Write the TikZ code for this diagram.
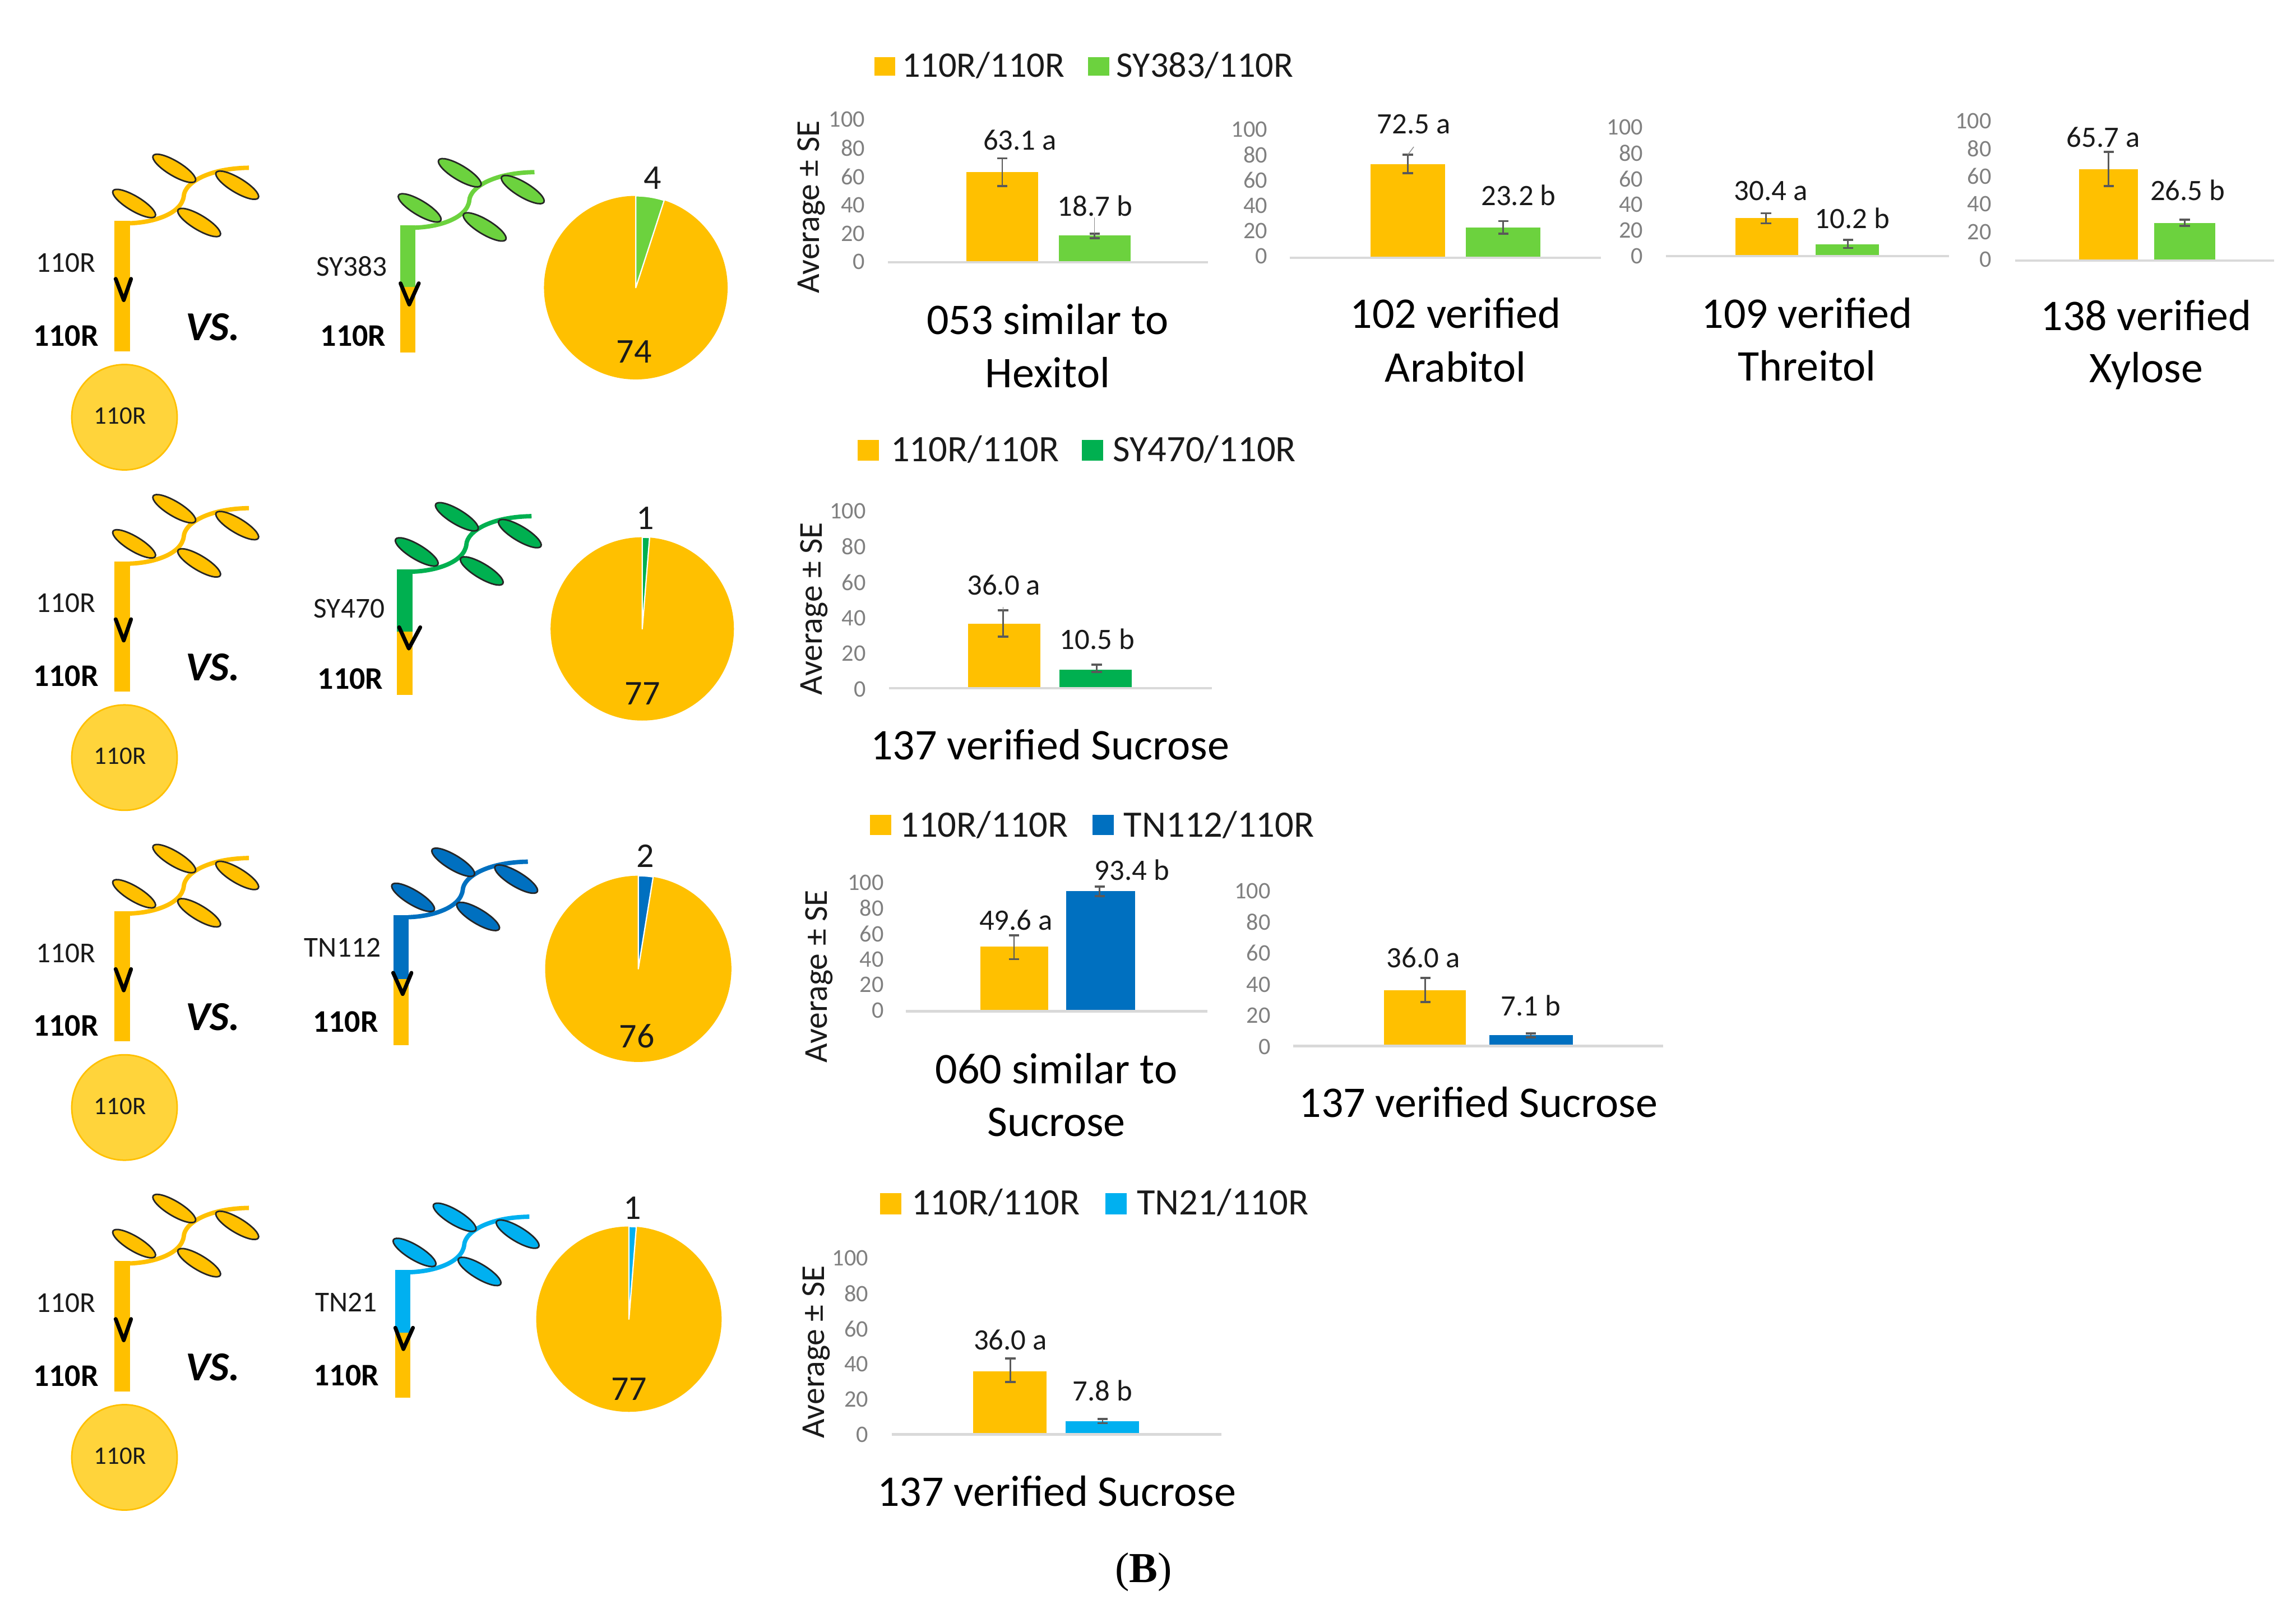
\documentclass[tikz,border=0pt]{standalone}
\usepackage{fontspec}
\setmainfont{Carlito}
\newfontfamily\capfont{Liberation Serif}
\definecolor{cyel}{HTML}{FFC000}
\definecolor{ccirc}{HTML}{FFD43B}
\definecolor{clg}{HTML}{6CD23E}
\definecolor{cdg}{HTML}{00B050}
\definecolor{cbl}{HTML}{0070C0}
\definecolor{csk}{HTML}{00B0F0}
\definecolor{ctick}{HTML}{808080}
\definecolor{caxis}{HTML}{D9D9D9}
\definecolor{cerr}{HTML}{595959}
\definecolor{ctxt}{HTML}{1A1A1A}
\tikzset{
  txt/.style={inner sep=0pt,outer sep=0pt,text=ctxt},
  plantlbl/.style={txt,font=\fontsize{11.2}{13}\selectfont},
  plantbold/.style={txt,text=black,font=\bfseries\fontsize{12.2}{14}\selectfont},
  vslbl/.style={txt,text=black,font=\bfseries\itshape\fontsize{16}{18}\selectfont},
  circlbl/.style={txt,font=\fontsize{9.8}{12}\selectfont},
  pielbl/.style={txt,font=\fontsize{13.5}{16}\selectfont},
  legendlbl/.style={txt,font=\fontsize{14.5}{17}\selectfont},
  legendlblsmall/.style={txt,font=\fontsize{14}{17}\selectfont},
  ticklbl/.style={txt,text=ctick,anchor=east,font=\fontsize{9.2}{11}\selectfont},
  vallbl/.style={txt,font=\fontsize{11.5}{14}\selectfont},
  titlelbl/.style={txt,text=black,font=\fontsize{17}{20}\selectfont},
  avglbl/.style={txt,rotate=90,font=\fontsize{13}{15}\selectfont},
  axisline/.style={draw=caxis,line width=0.9pt},
  errbar/.style={draw=cerr,line width=0.6pt},
  errcap/.style={draw=cerr,line width=0.8pt},
  errthin/.style={draw=cerr!70,line width=0.3pt},
  leaf/.style={draw=black!85,line width=0.6pt},
  shootline/.style={line width=1.7pt},
  graftmark/.style={draw=black,line width=1.5pt,line cap=round,line join=round},
  circstyle/.style={circle,draw=cyel,fill=ccirc,line width=0.6pt,inner sep=0pt},
  sliceedge/.style={draw=white,line width=0.5pt,line join=round},
}
% id, dx, dy, colour, stem bottom, junction, V left, V tip, V right
\newcommand{\graftplant}[9]{%
\begin{scope}[shift={(#2,#3)}]
  \draw[shootline,#4] (88.5,152.5) .. controls (105,152) and (124,146) .. (125.5,134)
        .. controls (126,125) and (142,115) .. (170,114.6);
  \fill[#4] (78.2,151) rectangle (88.7,#6);
  \fill[cyel] (78.2,#6) rectangle (88.7,#5);
  \draw[leaf,fill=#4,shift={(91.6,139)},rotate=-31] (0,0) ellipse [x radius=16.8,y radius=5];
  \draw[leaf,fill=#4,shift={(119,115)},rotate=-31] (0,0) ellipse [x radius=16.8,y radius=5];
  \draw[leaf,fill=#4,shift={(136,152)},rotate=-31] (0,0) ellipse [x radius=16.8,y radius=5];
  \draw[leaf,fill=#4,shift={(162,126.5)},rotate=-31] (0,0) ellipse [x radius=16.8,y radius=5];
  \draw[graftmark] (#7,190.5) -- (#8,205) -- (#9,190.5);
\end{scope}}
% id, cx, cy, r, angle, colour
\newcommand{\pie}[6]{%
\begin{scope}[shift={(#2,#3)},x=0.02cm,y=0.02cm]
  \fill[cyel] (0,0) circle [radius=#4];
  \draw[sliceedge,fill=#6] (0,0) -- (90:#4) arc [start angle=90,end angle={90-#5},radius=#4] -- cycle;
\end{scope}}
% id, axis x0, x1, y, tick right x, y of 100, y of 0
\newcommand{\chartaxis}[7]{%
  \foreach \v [count=\i from 0] in {100,80,60,40,20,0}{
    \node[ticklbl] (#1-t\v) at (#5,{#6+(#7-#6)*\i/5}) {\v};
  }
  \draw[axisline] (#2,#4) -- (#3,#4);}
% x0, x1, top, base, colour, err x, err top, err bottom
\newcommand{\chartbar}[8]{%
  \fill[#5] (#1,#3) rectangle (#2,#4);
  \draw[errbar] (#6,#7) -- (#6,#8);
  \draw[errcap] ({#6-3.5},#7) -- ({#6+3.5},#7);
  \draw[errcap] ({#6-3.5},#8) -- ({#6+3.5},#8);}
% id, swatch A x0, y0, y1, text A cx, cy, swatch B x0, text B left, label B
\newcommand{\legendcol}{clg}
\newcommand{\legendsty}{legendlbl}
\newcommand{\chartlegend}[9]{%
  \fill[cyel] (#2,#3) rectangle ({#2+14.5},#4);
  \node[\legendsty] (#1-a) at (#5,#6) {110R/110R};
  \fill[\legendcol] (#7,#3) rectangle ({#7+14.5},#4);
  \node[\legendsty,anchor=west] (#1-b) at (#8,#6) {#9};}
\begin{document}
\begin{tikzpicture}[x=0.02cm,y=-0.02cm]
\useasboundingbox (0,0) rectangle (1568,1092.8);
\fill[white] (0,0) rectangle (1568,1092.8);

% ---------- left plants ----------
\graftplant{pa1}{0}{0}{cyel}{239.9}{195}{79}{84.5}{89.5}
\graftplant{pa2}{0}{232.5}{cyel}{239.9}{195}{79}{84.5}{89.5}
\graftplant{pa3}{0}{471.5}{cyel}{239.9}{195}{79}{84.5}{89.5}
\graftplant{pa4}{0}{710.5}{cyel}{239.9}{195}{79}{84.5}{89.5}
\foreach \r/\d in {1/0,2/232.5,3/471.5,4/710.5}{
  \node[plantlbl] (la\r) at (45,{179.5+\d}) {110R};
  \node[plantbold] (lb\r) at (45,{229.3+\d}) {110R};
  \node[vslbl] (vs\r) at (145.5,{223.3+\d}) {VS.};
  \node[circstyle,minimum size=1.44cm] (ci\r) at (85,{285+\d}) {};
  \node[circlbl] (cl\r) at (82,{284+\d}) {110R};
}

% ---------- right plants ----------
\graftplant{pb1}{195}{3}{clg}{237.6}{193}{78.5}{84.5}{91}
\graftplant{pb2}{193}{238}{cdg}{236.6}{193.3}{79.6}{86.2}{94}
\graftplant{pb3}{190.5}{474}{cbl}{239.9}{194.7}{78}{84.5}{90.5}
\graftplant{pb4}{191.5}{716.5}{csk}{238.3}{193.8}{78.5}{84}{90.5}
\node[plantlbl] (sc1) at (240.3,181.8) {SY383};
\node[plantbold] (ro1) at (241.2,229.4) {110R};
\node[plantlbl] (sc2) at (238.5,415.7) {SY470};
\node[plantbold] (ro2) at (239.3,463.8) {110R};
\node[plantlbl] (sc3) at (233.9,647.4) {TN112};
\node[plantbold] (ro3) at (236,698) {110R};
\node[plantlbl] (sc4) at (236.3,889.5) {TN21};
\node[plantbold] (ro4) at (236.5,939.6) {110R};

% ---------- pies ----------
\pie{p1}{434.2}{196.5}{62.7}{18}{clg}
\node[pielbl] (p1a) at (445.8,121.6) {4};
\node[pielbl] (p1b) at (433,240.3) {74};
\pie{p2}{438.6}{429.6}{62.6}{4.6}{cdg}
\node[pielbl] (p2a) at (440.6,354) {1};
\node[pielbl] (p2b) at (438.8,473.6) {77};
\pie{p3}{435.9}{661.8}{63.6}{9.2}{cbl}
\node[pielbl] (p3a) at (440.8,584.6) {2};
\node[pielbl] (p3b) at (435,707.8) {76};
\pie{p4}{429.5}{901.1}{63.3}{4.6}{csk}
\node[pielbl] (p4a) at (431.7,825) {1};
\node[pielbl] (p4b) at (429.6,948.8) {77};

% ---------- row 1 charts ----------
\renewcommand{\legendcol}{clg}
\renewcommand{\legendsty}{legendlblsmall}
\chartlegend{lg1}{597}{39}{51.6}{671.5}{44.8}{743}{762.5}{SY383/110R}
\renewcommand{\legendsty}{legendlbl}
\node[avglbl] (avg1) at (554,141.5) {Average ± SE};
\chartbar{660}{709}{117.5}{179}{cyel}{684.5}{108.2}{127.2}
\chartbar{723}{772}{160.7}{179}{clg}{747.5}{159.7}{162.7}
\draw[errthin] (747.5,148.5) -- (747.5,159.7);
\chartaxis{c1}{606.5}{825}{179.3}{590.6}{81.7}{178.9}
\node[vallbl] (v1a) at (696.5,95.7) {63.1 a};
\node[vallbl] (v1b) at (747.8,140.7) {18.7 b};
\node[titlelbl] (t1a) at (715.5,218) {053 similar to};
\node[titlelbl] (t1b) at (715.5,254.5) {Hexitol};

\chartbar{935.9}{986.8}{112.1}{176}{cyel}{961.4}{105.7}{118.2}
\chartbar{1001}{1052}{155.6}{176}{clg}{1026.6}{151}{159.7}
\draw[errthin] (961.4,105.7) -- (965.5,100.3);
\chartaxis{c2}{880.7}{1093.3}{176}{865.5}{88.5}{175}
\node[vallbl] (v2a) at (965.5,84.7) {72.5 a};
\node[vallbl] (v2b) at (1037,133.5) {23.2 b};
\node[titlelbl] (t2a) at (994,214) {102 verified};
\node[titlelbl] (t2b) at (994,250.8) {Arabitol};

\chartbar{1185}{1228}{149}{175}{cyel}{1206}{145.7}{152.5}
\chartbar{1240}{1283}{167}{175}{clg}{1262}{163.8}{169.4}
\chartaxis{c3}{1137.7}{1331}{174.9}{1122}{87}{175}
\node[vallbl] (v3a) at (1209.4,130.4) {30.4 a};
\node[vallbl] (v3b) at (1265,149) {10.2 b};
\node[titlelbl] (t3a) at (1234,214) {109 verified};
\node[titlelbl] (t3b) at (1234,250) {Threitol};

\chartbar{1420}{1460}{115.8}{178}{cyel}{1440}{103.7}{127}
\chartbar{1471}{1512.7}{152.5}{178}{clg}{1492}{150}{154.3}
\chartaxis{c4}{1376}{1553}{178}{1360}{82.7}{177.3}
\node[vallbl] (v4a) at (1436.4,93.8) {65.7 a};
\node[vallbl] (v4b) at (1494,130) {26.5 b};
\node[titlelbl] (t4a) at (1465.6,215.5) {138 verified};
\node[titlelbl] (t4b) at (1465.6,253.5) {Xylose};

% ---------- row 2 chart ----------
\renewcommand{\legendcol}{cdg}
\chartlegend{lg2}{585.8}{300.4}{314.6}{665.8}{307}{739}{760}{SY470/110R}
\node[avglbl] (avg2) at (556,415.8) {Average ± SE};
\chartbar{661}{710.3}{426}{470}{cyel}{685}{417}{435}
\chartbar{723.6}{773}{457.5}{470}{cdg}{749}{454}{459}
\draw[errthin] (685,414.5) -- (685,417);
\chartaxis{c5}{607}{827.8}{470}{591.3}{349}{470.8}
\node[vallbl] (v5a) at (685.5,399.5) {36.0 a};
\node[vallbl] (v5b) at (749.2,436.6) {10.5 b};
\node[titlelbl] (t5) at (717,508.5) {137 verified Sucrose};

% ---------- row 3 charts ----------
\renewcommand{\legendcol}{cbl}
\chartlegend{lg3}{594}{556.7}{570.3}{672}{563.5}{746}{767.5}{TN112/110R}
\node[avglbl] (avg3) at (559.5,667) {Average ± SE};
\chartbar{669.4}{716}{646.5}{690.8}{cyel}{692.5}{639}{655.2}
\chartbar{728}{775}{608.5}{690.8}{cbl}{751}{605.7}{612.2}
\chartaxis{c6}{618.5}{824.6}{690.8}{603.5}{603}{690}
\node[vallbl] (v6a) at (693.8,628.6) {49.6 a};
\node[vallbl] (v6b) at (773,594.3) {93.4 b};
\node[titlelbl] (t6a) at (721.4,730) {060 similar to};
\node[titlelbl] (t6b) at (721.4,766.6) {Sucrose};

\chartbar{945}{1001}{676.5}{714.5}{cyel}{973.4}{668}{684.5}
\chartbar{1017}{1074}{707}{714.5}{cbl}{1045.4}{706}{708.6}
\chartaxis{c7}{883}{1135.6}{714.5}{867.7}{608.5}{715}
\node[vallbl] (v7a) at (972,654) {36.0 a};
\node[vallbl] (v7b) at (1045.4,687) {7.1 b};
\node[titlelbl] (t7) at (1009.6,753) {137 verified Sucrose};

% ---------- row 4 chart ----------
\renewcommand{\legendcol}{csk}
\chartlegend{lg4}{601}{814.9}{829.6}{680}{821.3}{755}{776.5}{TN21/110R}
\node[avglbl] (avg4) at (557.5,923.5) {Average ± SE};
\chartbar{664.5}{714.6}{936.9}{979.8}{cyel}{690}{928}{944.1}
\chartbar{727.7}{778}{970.8}{979.8}{csk}{753}{969.4}{972.2}
\chartaxis{c8}{609}{834}{979.8}{593}{859.5}{979.8}
\node[vallbl] (v8a) at (690,915.2) {36.0 a};
\node[vallbl] (v8b) at (753,950) {7.8 b};
\node[titlelbl] (t8) at (721.7,1018.5) {137 verified Sucrose};

% ---------- panel letter ----------
\node[inner sep=0pt,text=black,font=\capfont\fontsize{16.6}{20}\selectfont] (panel) at (781,1074) {(\textbf{B})};
\end{tikzpicture}
\end{document}
